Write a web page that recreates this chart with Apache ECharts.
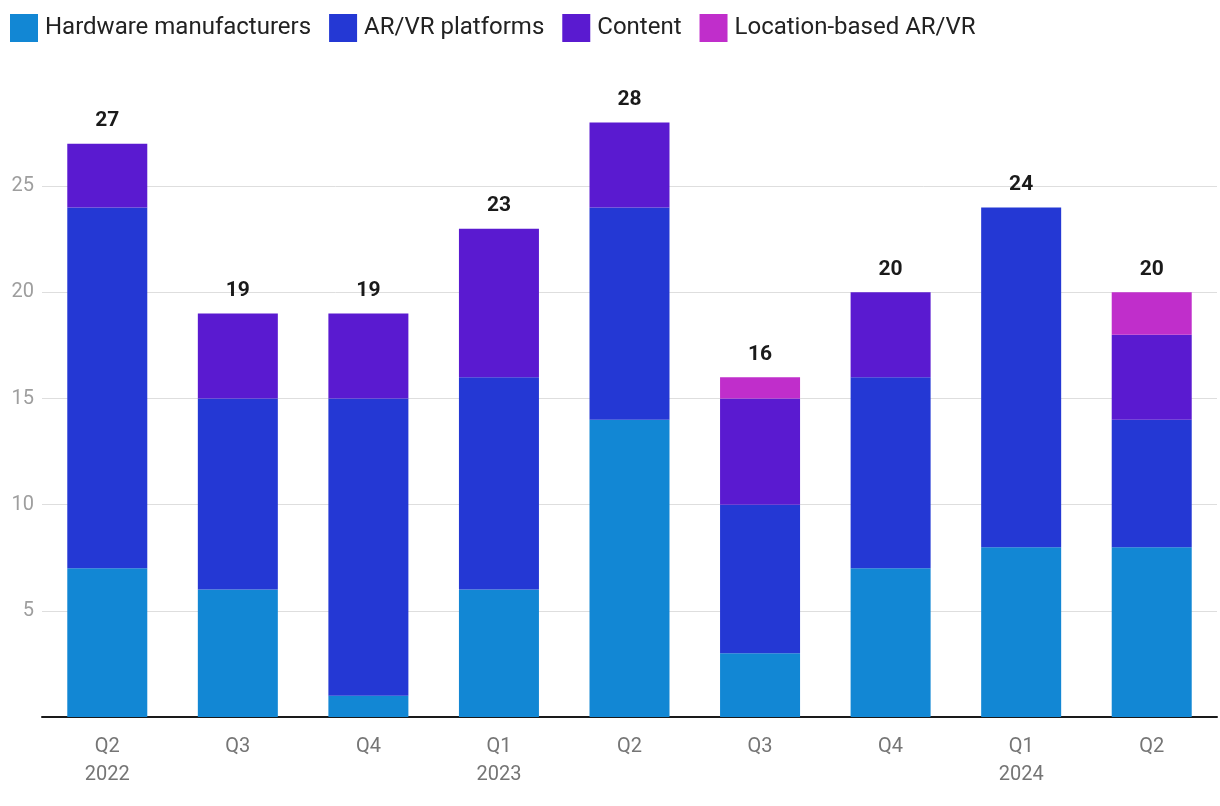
<!DOCTYPE html>
<html><head><meta charset="utf-8">
<script src="https://cdn.jsdelivr.net/npm/echarts@6/dist/echarts.min.js"></script>
<style>html,body{margin:0;padding:0;background:#fff}#c{width:1220px;height:806px}</style>
</head><body><div id="c"></div>
<script>
const categories = ['Q2\n2022','Q3','Q4','Q1\n2023','Q2','Q3','Q4','Q1\n2024','Q2'];
const hardware = [7,6,1,6,14,3,7,8,8];
const platforms = [17,9,14,10,10,7,9,16,6];
const content = [3,4,4,7,4,5,4,0,4];
const locationBased = [0,0,0,0,0,1,0,0,2];
const totals = [27,19,19,23,28,16,20,24,20];
const names = ['Hardware manufacturers','AR/VR platforms','Content','Location-based AR/VR'];
const colors = ['#1287d4','#2438d4','#5a1ad0','#c02ecb'];

const chart = echarts.init(document.getElementById('c'));
const font = 'Roboto, "Noto Sans", sans-serif';
const mk = (name, data, color) => ({
  name, type:'bar', stack:'s', data, barWidth:80,
  itemStyle:{color}, emphasis:{disabled:true}
});
chart.setOption({
  animation:false,
  textStyle:{fontFamily:font},
  legend:{
    data:names, left:5, top:9, itemWidth:28, itemHeight:28, itemGap:18,
    icon:'rect',
    textStyle:{fontSize:24, color:'#222', fontFamily:font, padding:[0,0,0,2]}
  },
  grid:{left:42, right:3, top:80, bottom:89, containLabel:false},
  xAxis:{
    type:'category', data:categories,
    axisLine:{lineStyle:{color:'#1a1a1a', width:2}},
    axisTick:{show:false},
    axisLabel:{fontSize:20, color:'#757575', lineHeight:28, margin:16, fontFamily:font}
  },
  yAxis:{
    type:'value', min:0, max:30, interval:5,
    axisLine:{show:false}, axisTick:{show:false},
    axisLabel:{fontSize:20, color:'#9e9e9e', margin:8, fontFamily:font,
      formatter:v => (v===0||v===30)?'':String(v)},
    splitLine:{lineStyle:{color:['transparent','#dedede','#dedede','#dedede','#dedede','#dedede','transparent'], width:1}}
  },
  series:[
    mk(names[0], hardware, colors[0]),
    mk(names[1], platforms, colors[1]),
    mk(names[2], content, colors[2]),
    mk(names[3], locationBased, colors[3]),
    {
      name:'Total', type:'line', data:totals, symbol:'circle', symbolSize:1, showSymbol:true,
      itemStyle:{color:'rgba(0,0,0,0)'},
      lineStyle:{opacity:0}, silent:true,
      label:{show:true, position:'top', distance:12, fontSize:21, fontWeight:'bold', color:'#1a1a1a', fontFamily:font}
    }
  ]
});
</script></body></html>
